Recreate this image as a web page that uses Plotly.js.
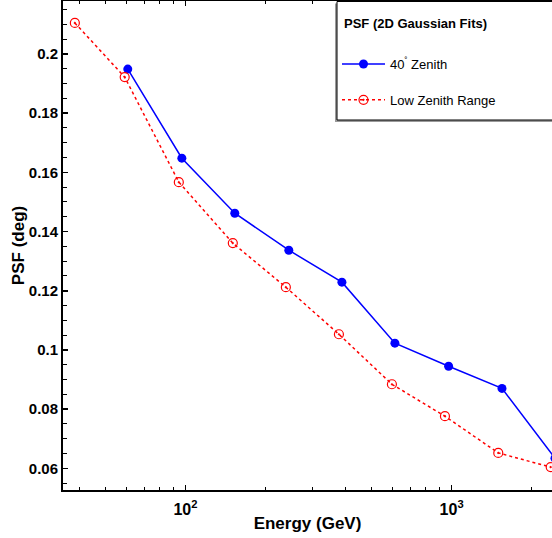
<!DOCTYPE html>
<html><head><meta charset="utf-8">
<script src="https://cdn.plot.ly/plotly-3.0.1.min.js"></script>
<style>html,body{margin:0;padding:0;overflow:hidden;background:#fff}</style>
</head><body><div id="chart" style="width:552px;height:538px"></div>
<script>
// Energy (GeV) and PSF (deg)
const energyZenith40 = [60.7, 96.9, 153.2, 244.5, 387.0, 612.1, 974.3, 1546, 2445];
const psfZenith40    = [0.1949, 0.1648, 0.1462, 0.1337, 0.1229, 0.1023, 0.0945, 0.0870, 0.0634];
const energyLowZen   = [38.4, 59.1, 94.4, 150.6, 238.3, 377.1, 596.5, 943.7, 1497, 2356];
const psfLowZen      = [0.2105, 0.1922, 0.1567, 0.1361, 0.1212, 0.1053, 0.0884, 0.0776, 0.0652, 0.0604];
const xTickVals  = [100, 1000];
const xTickText  = ['10<sup>2</sup>', '10<sup>3</sup>'];
const xMinorVals = [40, 50, 60, 70, 80, 90, 200, 300, 400, 500, 600, 700, 800, 900, 2000, 3000];
const legendTitle = 'PSF (2D Gaussian Fits)';

const font = 'Liberation Sans, Arial, sans-serif';
const traces = [
  {x: energyZenith40, y: psfZenith40, name: '40<sup>˚</sup> Zenith', mode: 'lines+markers',
   legendgroup: 'a',
   line: {color: '#0000ff', width: 1.5}, marker: {color: '#0000ff', size: 9, symbol: 'circle'}},
  {x: energyLowZen, y: psfLowZen, name: 'Low Zenith Range', mode: 'lines+markers',
   legendgroup: 'b',
   line: {color: '#ff0000', width: 1.5, dash: '3px,3px'},
   marker: {color: '#ff0000', size: 9, symbol: 'circle-open-dot', line: {width: 1.2, color: '#ff0000'}}}
];
// paper-coordinate helpers for the legend frame (plot area: x 63..552, y 1..490)
const px = v => (v - 63) / 489;
const py = v => (490 - v) / 489;
const layout = {
  width: 552, height: 538,
  margin: {l: 63, r: 0, t: 1, b: 48},
  paper_bgcolor: '#fff', plot_bgcolor: '#fff',
  font: {family: font, color: '#000'},
  showlegend: true,
  xaxis: {
    type: 'log', range: [1.5398, 3.3771],
    tickmode: 'array', tickvals: xTickVals, ticktext: xTickText,
    ticks: 'inside', ticklen: 5, tickwidth: 1.5, tickcolor: '#000',
    minor: {tickmode: 'array', tickvals: xMinorVals, ticks: 'inside', ticklen: 3, tickwidth: 1, tickcolor: '#000', showgrid: false},
    showgrid: false, zeroline: false,
    showline: true, linecolor: '#000', linewidth: 2, mirror: 'ticks',
    ticklabelstandoff: 4,
    tickfont: {family: font, size: 16, weight: 'bold', color: '#000'},
    title: {text: 'Energy (GeV)', font: {family: font, size: 17, weight: 'bold', color: '#000'}, standoff: 0}
  },
  yaxis: {
    range: [0.05267, 0.21791],
    tickmode: 'linear', tick0: 0, dtick: 0.02,
    ticks: 'inside', ticklen: 5, tickwidth: 1.5, tickcolor: '#000',
    minor: {dtick: 0.005, ticks: 'inside', ticklen: 4, tickwidth: 1, tickcolor: '#000', showgrid: false},
    showgrid: false, zeroline: false,
    showline: true, linecolor: '#000', linewidth: 2, mirror: false,
    tickfont: {family: font, size: 15, weight: 'bold', color: '#000'},
    title: {text: 'PSF (deg)', font: {family: font, size: 17, weight: 'bold', color: '#000'}, standoff: 0}
  },
  shapes: [
    {type: 'rect', xref: 'paper', yref: 'paper', layer: 'above',
     x0: px(335), x1: 1.2, y0: py(122), y1: py(3.5),
     fillcolor: '#9a9a9a', line: {width: 0}},
    {type: 'rect', xref: 'paper', yref: 'paper', layer: 'above',
     x0: px(337), x1: 1.2, y0: py(120), y1: py(1.5),
     fillcolor: '#ffffff', line: {color: '#000', width: 1}}
  ],
  annotations: [
    {text: legendTitle, xref: 'paper', yref: 'paper', x: px(342), y: py(23),
     xanchor: 'left', yanchor: 'middle', showarrow: false,
     font: {family: font, size: 13, weight: 'bold', color: '#000'}}
  ],
  legend: {
    x: px(337), y: py(49), xanchor: 'left', yanchor: 'top',
    bgcolor: 'rgba(0,0,0,0)', borderwidth: 0,
    font: {family: font, size: 13, color: '#000'},
    traceorder: 'grouped', tracegroupgap: 16, itemwidth: 43
  }
};
Plotly.newPlot('chart', traces, layout, {displayModeBar: false, staticPlot: true});
</script></body></html>
